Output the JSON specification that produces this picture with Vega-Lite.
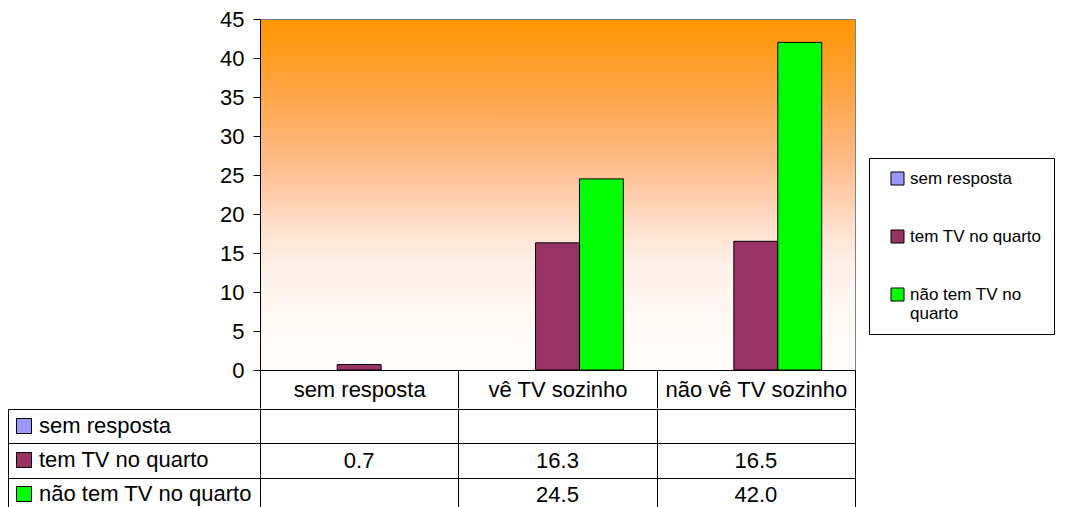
{
  "$schema": "https://vega.github.io/schema/vega-lite/v6.json",
  "background": "white",
  "padding": {"left": 7, "top": 7, "right": 0, "bottom": 0},
  "spacing": -2,
  "config": {"font": "Liberation Sans", "view": {"strokeWidth": 1}},
  "datasets": {
    "bars": [
      {"category": "sem resposta", "series": "tem TV no quarto", "value": 0.7},
      {"category": "vê TV sozinho", "series": "tem TV no quarto", "value": 16.3},
      {"category": "vê TV sozinho", "series": "não tem TV no quarto", "value": 24.5},
      {"category": "não vê TV sozinho", "series": "tem TV no quarto", "value": 16.5},
      {"category": "não vê TV sozinho", "series": "não tem TV no quarto", "value": 42.0}
    ]
  },
  "resolve": {"scale": {"x": "independent", "y": "independent", "color": "independent"}, "legend": {"color": "independent"}},
  "vconcat": [
    {
      "width": 595,
      "height": 351,
      "data": {"name": "bars"},
      "view": {
        "stroke": "#808080",
        "fill": {
          "gradient": "linear", "x1": 0, "y1": 0, "x2": 0, "y2": 1,
          "stops": [
            {"offset": 0, "color": "#FF9600"},
            {"offset": 0.2, "color": "#FFA444"},
            {"offset": 0.4, "color": "#FFBA86"},
            {"offset": 0.5, "color": "#FFCDAC"},
            {"offset": 0.6, "color": "#FFE2D0"},
            {"offset": 0.7, "color": "#FFEFE6"},
            {"offset": 0.8, "color": "#FFF6F1"},
            {"offset": 0.9, "color": "#FFFAF7"},
            {"offset": 1, "color": "#FFFCFA"}
          ]
        }
      },
      "mark": {"type": "bar", "stroke": "black", "strokeWidth": 1},
      "encoding": {
        "x": {
          "field": "category", "type": "nominal",
          "sort": ["sem resposta", "vê TV sozinho", "não vê TV sozinho"],
          "scale": {"domain": ["sem resposta", "vê TV sozinho", "não vê TV sozinho"], "paddingInner": 0, "paddingOuter": 0},
          "axis": {
            "title": null, "orient": "bottom", "tickBand": "extent", "tickSize": 38, "tickColor": "black",
            "domainColor": "black", "labelAngle": 0, "labelFontSize": 22, "labelColor": "black",
            "labelPadding": -19, "labelBaseline": "middle", "labelFont": "Liberation Sans", "labelLimit": 0
          }
        },
        "xOffset": {
          "field": "series", "type": "nominal",
          "scale": {"domain": ["sem resposta", "tem TV no quarto", "não tem TV no quarto"], "paddingInner": 0, "paddingOuter": 0.758}
        },
        "y": {
          "field": "value", "type": "quantitative",
          "scale": {"domain": [0, 45], "nice": false},
          "axis": {
            "title": null, "values": [0, 5, 10, 15, 20, 25, 30, 35, 40, 45], "grid": false,
            "tickSize": 7, "tickColor": "black", "domainColor": "black", "labelFontSize": 22,
            "labelColor": "black", "labelPadding": 9, "labelFont": "Liberation Sans"
          }
        },
        "color": {
          "field": "series", "type": "nominal",
          "scale": {"domain": ["sem resposta", "tem TV no quarto", "não tem TV no quarto"], "range": ["#9999FF", "#993366", "#00FF00"]},
          "legend": {
            "orient": "none", "legendX": 609, "legendY": 139, "title": null,
            "strokeColor": "black", "fillColor": "white", "padding": 12, "symbolOffset": 8,
            "symbolType": "square", "symbolSize": 169, "symbolStrokeColor": "black", "symbolStrokeWidth": 1,
            "symbolOpacity": 1, "labelFontSize": 17, "labelColor": "black", "labelFont": "Liberation Sans",
            "rowPadding": 40, "labelOffset": 4, "labelLimit": 0,
            "labelExpr": "datum.label == 'não tem TV no quarto' ? ['não tem TV no', 'quarto'] : datum.label"
          }
        }
      }
    },
    {
      "width": 595,
      "height": 103,
      "data": {"name": "bars"},
      "view": {"stroke": "black", "fill": "white"},
      "encoding": {
        "x": {
          "field": "category", "type": "nominal",
          "scale": {"domain": ["sem resposta", "vê TV sozinho", "não vê TV sozinho"], "paddingInner": 0, "paddingOuter": 0},
          "axis": {"title": null, "orient": "top", "labels": false, "ticks": false, "domain": false, "grid": true, "gridColor": "black", "gridOpacity": 1, "tickBand": "extent"}
        },
        "y": {
          "field": "series", "type": "nominal",
          "scale": {"domain": ["sem resposta", "tem TV no quarto", "não tem TV no quarto"], "paddingInner": 0, "paddingOuter": 0},
          "axis": {"title": null, "orient": "left", "offset": 252, "labels": false, "grid": false, "ticks": true, "tickSize": -847, "tickColor": "black", "tickBand": "extent", "domain": true, "domainColor": "black"}
        }
      },
      "layer": [
        {
          "mark": {"type": "text", "fontSize": 22, "color": "black", "align": "center", "baseline": "middle", "font": "Liberation Sans"},
          "encoding": {"text": {"field": "value", "type": "quantitative", "format": ".1f"}}
        },
        {
          "mark": {"type": "text", "fontSize": 22},
          "encoding": {
            "text": {"value": ""},
            "color": {
              "field": "series", "type": "nominal",
              "scale": {"domain": ["sem resposta", "tem TV no quarto", "não tem TV no quarto"], "range": ["#9999FF", "#993366", "#00FF00"]},
              "legend": {
                "orient": "none", "legendX": -247, "legendY": 6, "title": null, "padding": 0,
                "symbolType": "square", "symbolSize": 225, "symbolStrokeColor": "black", "symbolStrokeWidth": 1,
                "symbolOpacity": 1, "labelFontSize": 22, "labelColor": "black", "labelFont": "Liberation Sans",
                "rowPadding": 12, "labelOffset": 4, "labelLimit": 0
              }
            }
          }
        }
      ]
    }
  ]
}
